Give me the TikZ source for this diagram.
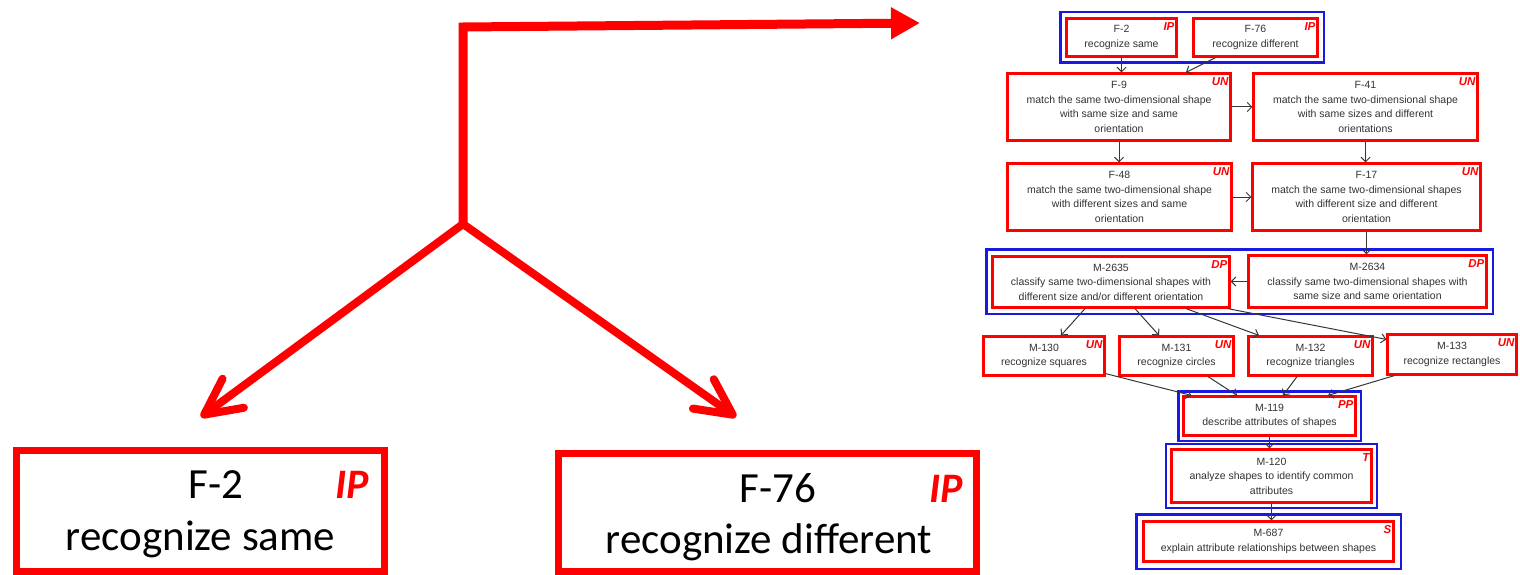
\documentclass[tikz,border=0pt]{standalone}
\usepackage{fontspec}
\usetikzlibrary{arrows.meta,fit,calc}
\newfontfamily\calfont{Carlito}
\newfontfamily\arifont{Liberation Sans}
\definecolor{bred}{RGB}{255,0,0}
\definecolor{bblue}{RGB}{25,25,225}
\definecolor{tgray}{RGB}{50,50,50}
\definecolor{agray}{RGB}{55,55,55}
\begin{document}
\begin{tikzpicture}[x=1pt,y=-1pt,
  bigbox/.style={draw=bred,line width=7pt,inner sep=0pt},
  bigtxt/.style={font=\calfont\fontsize{43}{50}\selectfont,anchor=base,inner sep=0pt},
  biglab/.style={font=\calfont\bfseries\itshape\fontsize{42}{50}\selectfont,text=bred,anchor=base,inner sep=0pt},
  bigarrow/.style={draw=bred,line width=9pt},
  sbox/.style={draw=bred,line width=2.2pt,inner sep=0pt,align=center,text=tgray,font=\arifont\fontsize{10.5}{14.5}\selectfont},
  slab/.style={font=\arifont\bfseries\itshape\fontsize{11.5}{12}\selectfont,text=bred,anchor=north east,inner sep=0pt},
  grp/.style={draw=bblue,line width=2.2pt,inner sep=5pt},
  sarr/.style={draw=agray,line width=1pt,-{Straight Barb[length=4.5pt,width=9pt]}},
]
\useasboundingbox (0,0) rectangle (1520,575);

% ---------- big left part ----------
\node[bigbox,minimum width=368pt,minimum height=121pt] (B1) at (200.5,511) {};
\node[bigbox,minimum width=418pt,minimum height=118pt] (B2) at (767.5,512.5) {};
\node[bigtxt] (B1id) at (216,498.5) {F-2};
\node[bigtxt] (B1d) at (200.5,550) {recognize same};
\node[biglab] (B1l) at (352,498.5) {IP};
\node[bigtxt] (B2id) at (778,502) {F-76};
\node[bigtxt] (B2d) at (769,553) {recognize different};
\node[biglab] (B2l) at (946,502) {IP};

\coordinate (J) at (463,224);
\coordinate (corner) at (463,27);
\coordinate (tipH) at (920,23);
\coordinate (tipL) at (201,417);
\coordinate (tipR) at (736,417);
\draw[bigarrow,line join=miter,-{Triangle[length=29pt,width=30pt]}] (J) -- (corner) -- (tipH);
\draw[bigarrow,line width=8pt,-{Straight Barb[length=36pt,width=36pt,round]}] (J) -- (tipL);
\draw[bigarrow,line width=8pt,-{Straight Barb[length=36pt,width=36pt,round]}] (J) -- (tipR);

% ---------- right diagram ----------
\node[sbox,minimum width=110pt,minimum height=38pt] (f2) at (1121.5,37.5) {F-2\\recognize same};
\node[sbox,minimum width=124pt,minimum height=38pt] (f76) at (1255.5,37.5) {F-76\\recognize different};
\node[sbox,minimum width=223pt,minimum height=67pt] (f9) at (1119,107) {F-9\\match the same two-dimensional shape\\with same size and same\\orientation};
\node[sbox,minimum width=224pt,minimum height=67pt] (f41) at (1365.5,107) {F-41\\match the same two-dimensional shape\\with same sizes and different\\orientations};
\node[sbox,minimum width=224pt,minimum height=67pt] (f48) at (1119.5,197) {F-48\\match the same two-dimensional shape\\with different sizes and same\\orientation};
\node[sbox,minimum width=228pt,minimum height=67pt] (f17) at (1366.5,197) {F-17\\match the same two-dimensional shapes\\with different size and different\\orientation};
\node[sbox,minimum width=237pt,minimum height=51pt] (m2635) at (1111,282) {M-2635\\classify same two-dimensional shapes with\\different size and/or different orientation};
\node[sbox,minimum width=238pt,minimum height=52pt] (m2634) at (1367.5,281.5) {M-2634\\classify same two-dimensional shapes with\\same size and same orientation};
\node[sbox,minimum width=121pt,minimum height=39pt] (m130) at (1044,356) {M-130\\recognize squares};
\node[sbox,minimum width=114pt,minimum height=39pt] (m131) at (1176.5,356) {M-131\\recognize circles};
\node[sbox,minimum width=124pt,minimum height=39pt] (m132) at (1310.5,356) {M-132\\recognize triangles};
\node[sbox,minimum width=129pt,minimum height=40pt] (m133) at (1452,354.5) {M-133\\recognize rectangles};
\node[sbox,minimum width=172pt,minimum height=39pt] (m119) at (1269.5,416) {M-119\\describe attributes of shapes};
\node[sbox,minimum width=200pt,minimum height=53pt] (m120) at (1271.5,476) {M-120\\analyze shapes to identify common\\attributes};
\node[sbox,minimum width=250pt,minimum height=40pt] (m687) at (1268.5,541.5) {M-687\\explain attribute relationships between shapes};

\foreach \n/\t in {f2/IP,f76/IP,f9/UN,f41/UN,f48/UN,f17/UN,m2635/DP,m2634/DP,m130/UN,m131/UN,m132/UN,m133/UN,m119/PP,m120/T,m687/S}
  \node[slab] (\n lab) at ([xshift=-3pt,yshift=-5pt]\n.north east) {\t};

\node[grp,fit=(f2)(f76)] (g1) {};
\node[grp,fit=(m2635)(m2634)] (g2) {};
\node[grp,inner sep=4pt,fit=(m119)] (g3) {};
\node[grp,inner sep=4.5pt,fit=(m120)] (g4) {};
\node[grp,inner sep=6pt,fit=(m687)] (g5) {};

\draw[sarr] (f2.south) -- (f2.south |- f9.north);
\draw[sarr] ([xshift=-40pt]f76.south) -- ([xshift=67pt]f9.north);
\draw[sarr] (f9.east) -- (f41.west);
\draw[sarr] (f9.south) -- (f9.south |- f48.north);
\draw[sarr] (f41.south) -- (f41.south |- f17.north);
\draw[sarr] (f48.east) -- (f17.west);
\draw[sarr] (f17.south) -- (f17.south |- m2634.north);
\draw[sarr] (m2634.west) -- (m2634.west -| m2635.east);
\draw[sarr] ([xshift=-26pt]m2635.south) -- ([xshift=17pt]m130.north);
\draw[sarr] ([xshift=24pt]m2635.south) -- ([xshift=-17.5pt]m131.north);
\draw[sarr] ([xshift=75pt]m2635.south) -- ([xshift=-51.5pt]m132.north);
\draw[sarr] ([xshift=-3pt]m2635.south east) -- ([yshift=-6pt]m133.north west);
\draw[sarr] ([yshift=3pt]m130.south east) -- ([xshift=9pt]m119.north west);
\draw[sarr] ([xshift=31.5pt]m131.south) -- ([xshift=-32.5pt]m119.north);
\draw[sarr] ([xshift=-13.5pt]m132.south) -- ([xshift=13.5pt]m119.north);
\draw[sarr] ([xshift=8pt]m133.south west) -- ([xshift=58.5pt]m119.north);
\draw[sarr] (m119.south) -- (m119.south |- m120.north);
\draw[sarr] (m120.south) -- (m120.south |- m687.north);
\end{tikzpicture}
\end{document}
